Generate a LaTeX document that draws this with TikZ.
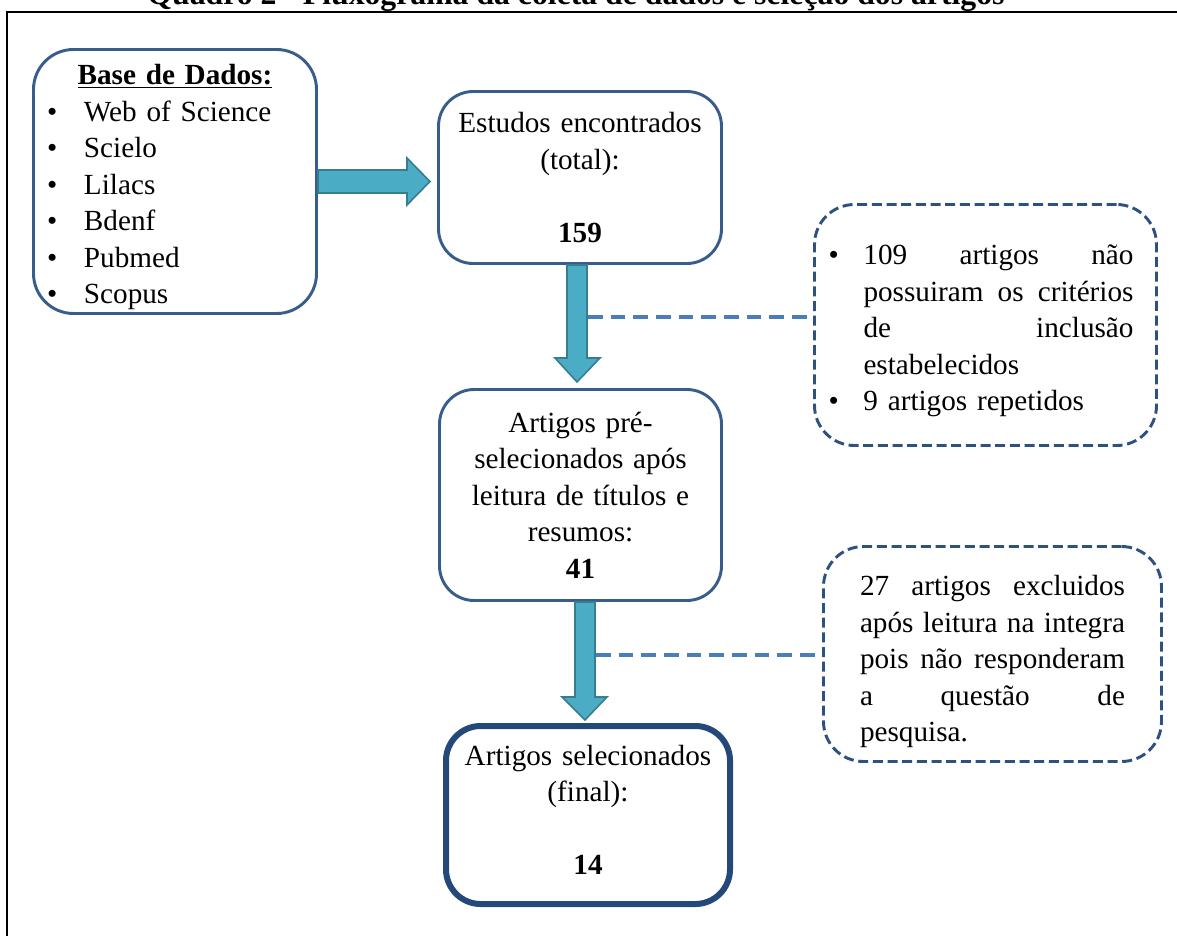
\documentclass[tikz,border=0pt]{standalone}
\usepackage{fontspec}
\setmainfont{Liberation Serif}
\usetikzlibrary{positioning,calc,shapes}
\definecolor{boxline}{HTML}{385D8A}
\definecolor{finalline}{HTML}{24487A}
\definecolor{dashbox}{HTML}{2E527F}
\definecolor{dashlink}{HTML}{4A7EBB}
\definecolor{arrowfill}{HTML}{4BACC6}
\definecolor{arrowline}{HTML}{357D91}
\newcommand{\bitem}[2][26.25pt]{\makebox[#1][l]{\textbullet}#2}
\newcommand{\jline}[2][202.5pt]{\makebox[#1][s]{\spaceskip=0pt\xspaceskip=0pt #2}}
\newcommand{\lift}[1]{\rule{0pt}{#1}}
\newcommand{\sink}[1]{\rule[-#1]{0pt}{#1}}

\begin{document}
\begin{tikzpicture}[x=0.75pt,y=-0.75pt,
  every node/.style={font=\fontsize{21.9}{27.4}\selectfont},
  box/.style={draw=boxline,line width=2.2pt,rounded corners=26pt,fill=white,inner sep=0pt,align=center},
  finalbox/.style={box,draw=finalline,line width=4.5pt},
  exclbox/.style={box,draw=dashbox,dash pattern=on 7.5pt off 3.5pt,rounded corners=30pt,align=left},
  link/.style={draw=dashlink,line width=3pt,dash pattern=on 11pt off 6pt},
  blockarrow/.style={draw=arrowline,fill=arrowfill,line width=1.2pt}]
  \useasboundingbox (0,0) rectangle (1177,935);
  \clip (0,0) rectangle (1177,935);
  % frame and title
  \draw[line width=1.5pt] (1200,12) -| (7,960);
  \node[anchor=base,font=\fontsize{23.8}{28}\selectfont\bfseries] (title) at (576,4)
    {Quadro 2 - Fluxograma da coleta de dados e seleção dos artigos};
  % boxes
  \node[box,rounded corners=30pt,minimum width=212.25pt,minimum height=198pt,
        text width=192pt,align=left] (bases) at (175,181.5)
    {\makebox[192pt]{\lift{24pt}\underline{\textbf{Base de Dados:}}}\\
     \bitem[27.75pt]{Web of Science}\\
     \bitem[27.75pt]{Scielo}\\
     \bitem[27.75pt]{Lilacs}\\
     \bitem[27.75pt]{Bdenf}\\
     \bitem[27.75pt]{Pubmed}\\
     \bitem[27.75pt]{Scopus}};
  \node[box,minimum width=212.25pt,minimum height=129pt,text width=200pt] (found) at (580,177.5)
    {Estudos encontrados\\(total):\\[27.4pt]\textbf{159}};
  \node[box,minimum width=211.5pt,minimum height=158.25pt,text width=200pt] (pre) at (580.5,495)
    {Artigos pré-\\selecionados após\\leitura de títulos e\\resumos:\\\textbf{41}};
  \node[finalbox,minimum width=213pt,minimum height=133.5pt,text width=200pt] (final) at (588,815)
    {Artigos selecionados\\(final):\\[27.4pt]\textbf{14}\sink{7.5pt}};
  \node[exclbox,minimum width=256.5pt,minimum height=180.75pt,text width=235.5pt] (excl1) at (985.5,325)
    {\bitem{\lift{24pt}\jline{109 artigos não}}\\
     \hspace*{26.25pt}\jline{possuiram os critérios}\\
     \hspace*{26.25pt}\jline{de inclusão}\\
     \hspace*{26.25pt}estabelecidos\\
     \bitem{9 artigos repetidos}};
  \node[exclbox,minimum width=253.5pt,minimum height=161.25pt,text width=198.75pt] (excl2) at (992.5,654)
    {\lift{27pt}\jline[198.75pt]{27 artigos excluidos}\\
     \jline[198.75pt]{após leitura na integra}\\
     \jline[198.75pt]{pois não responderam}\\
     \jline[198.75pt]{a questão de}\\
     pesquisa.};
  % dashed links
  \coordinate (j1) at (588,317);
  \coordinate (j2) at (596,655);
  \draw[link] (j1) -- (j1 -| excl1.west);
  \draw[link] (j2) -- (j2 -| excl2.west);
  % block arrows
  \draw[blockarrow] ($(bases.east)+(0,-11.5)$) -- ++(89,0) -- ++(0,-12) -- ++(23,23.5)
    -- ++(-23,23.5) -- ++(0,-12) -- ++(-89,0) -- cycle;
  \draw[blockarrow] ($(found.south)+(-13,0)$) -- ++(0,93) -- ++(-12,0) -- ++(22,24)
    -- ++(23,-24) -- ++(-13,0) -- ++(0,-93) -- cycle;
  \draw[blockarrow] ($(pre.south)+(-5.5,0)$) -- ++(0,95) -- ++(-13,0) -- ++(23,23)
    -- ++(22,-23) -- ++(-12,0) -- ++(0,-95) -- cycle;
\end{tikzpicture}
\end{document}
